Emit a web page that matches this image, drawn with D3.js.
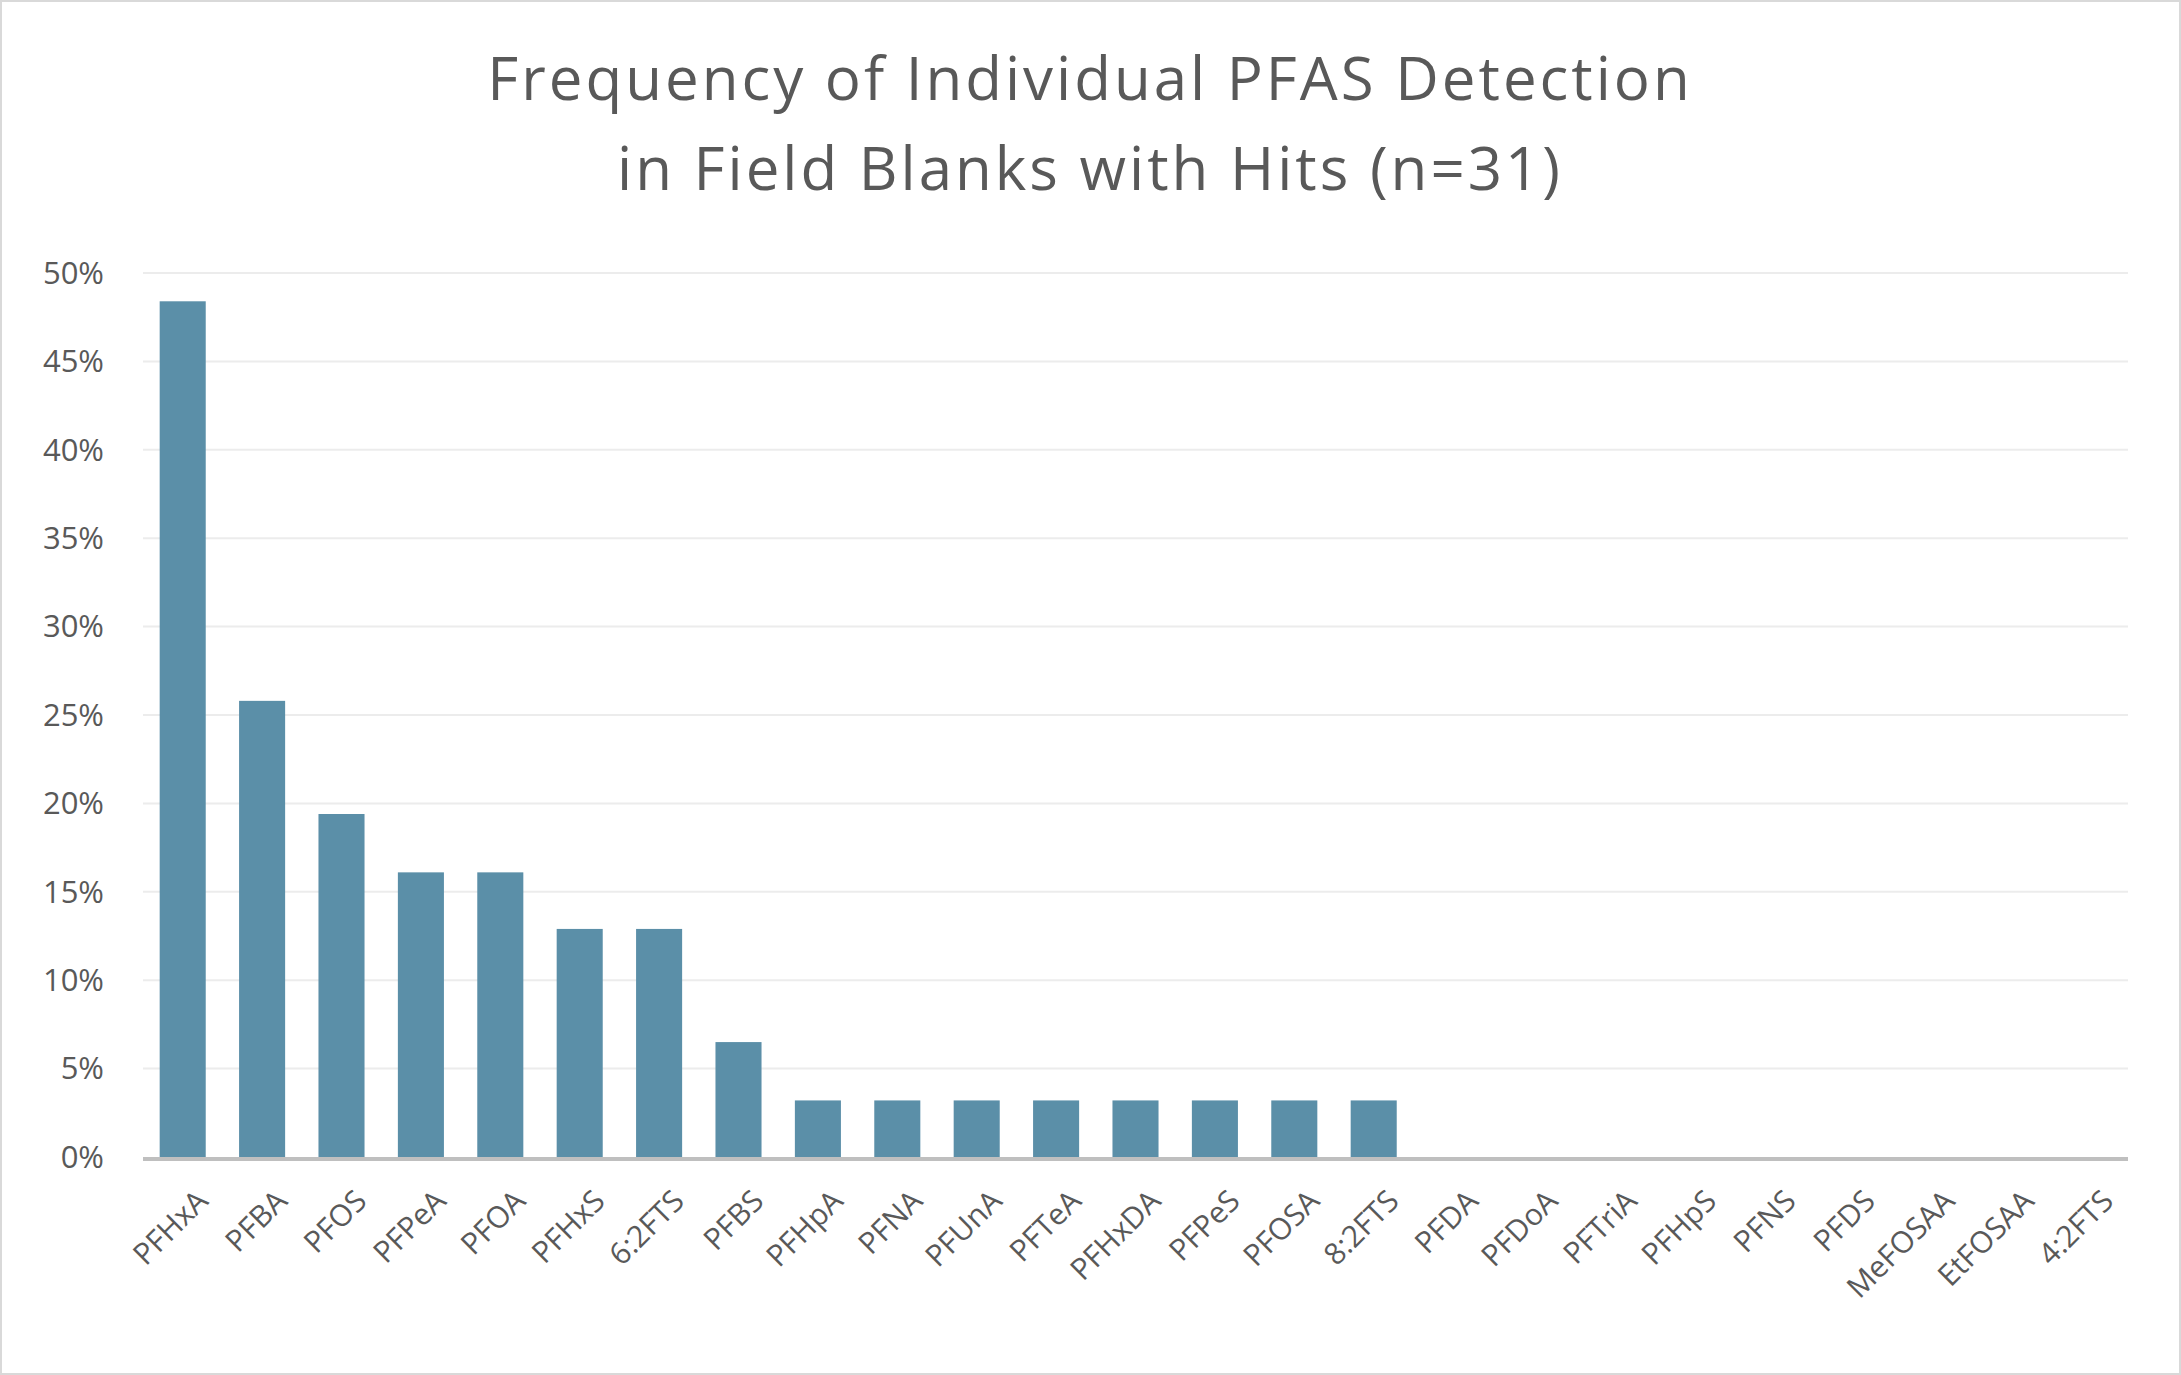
<!DOCTYPE html>
<html><head><meta charset="utf-8">
<script src="https://cdn.jsdelivr.net/npm/d3@7"></script>
<style>body{margin:0;background:#fff}</style>
</head><body><div id="chart"></div>
<script>
const categories = ["PFHxA","PFBA","PFOS","PFPeA","PFOA","PFHxS","6:2FTS","PFBS","PFHpA","PFNA","PFUnA","PFTeA","PFHxDA","PFPeS","PFOSA","8:2FTS","PFDA","PFDoA","PFTriA","PFHpS","PFNS","PFDS","MeFOSAA","EtFOSAA","4:2FTS"];
const values = [0.484,0.258,0.194,0.161,0.161,0.129,0.129,0.065,0.032,0.032,0.032,0.032,0.032,0.032,0.032,0.032,0,0,0,0,0,0,0,0,0];
const yTicks = [0,0.05,0.1,0.15,0.2,0.25,0.3,0.35,0.4,0.45,0.5];
const titleLines = ["Frequency of Individual PFAS Detection","in Field Blanks with Hits (n=31)"];

let w = 2181, h = 1375;
let font = "'Open Sans', sans-serif";
let svg = d3.select("#chart").append("svg").attr("width", w).attr("height", h);

svg.append("rect").attr("x",1).attr("y",1).attr("width",w-2).attr("height",h-2)
  .attr("fill","#fff").attr("stroke","#d9d9d9").attr("stroke-width",2);

let x = d3.scaleBand().domain(categories).range([143, 2128]).paddingInner(0.42).paddingOuter(0.21);
let y = d3.scaleLinear().domain([0, 0.5]).range([1157, 273]);

// gridlines
svg.append("g").selectAll("line").data(yTicks.slice(1)).join("line")
  .attr("x1",143).attr("x2",2128).attr("y1",d=>y(d)).attr("y2",d=>y(d))
  .attr("stroke","#ececec").attr("stroke-width",2);

// y labels
svg.append("g").selectAll("text").data(yTicks).join("text")
  .attr("x",104).attr("y",d=>y(d)).attr("dy","0.35em").attr("text-anchor","end")
  .attr("font-family",font).attr("font-size",31).attr("fill","#595959")
  .text(d3.format(".0%"));

// bars
svg.append("g").selectAll("rect").data(values).join("rect")
  .attr("x",(d,i)=>x(categories[i])).attr("width",x.bandwidth())
  .attr("y",d=>y(d)).attr("height",d=>y(0)-y(d))
  .attr("fill","#5b8fa8");

// axis line
svg.append("line").attr("x1",143).attr("x2",2128).attr("y1",y(0)+2).attr("y2",y(0)+2)
  .attr("stroke","#bfbfbf").attr("stroke-width",4);

// x labels
svg.append("g").selectAll("text").data(categories).join("text")
  .attr("transform",d=>`translate(${x(d)+x.bandwidth()/2+12},1188) rotate(-45)`)
  .attr("text-anchor","end").attr("dy","0.7em")
  .attr("font-family",font).attr("font-size",30).attr("fill","#595959")
  .text(d=>d);

// title
svg.append("g").selectAll("text").data(titleLines).join("text")
  .attr("x",1090).attr("y",(d,i)=>100+i*90).attr("text-anchor","middle")
  .attr("font-family",font).attr("font-size",60).attr("letter-spacing",3).attr("fill","#595959")
  .text(d=>d);
</script></body></html>
